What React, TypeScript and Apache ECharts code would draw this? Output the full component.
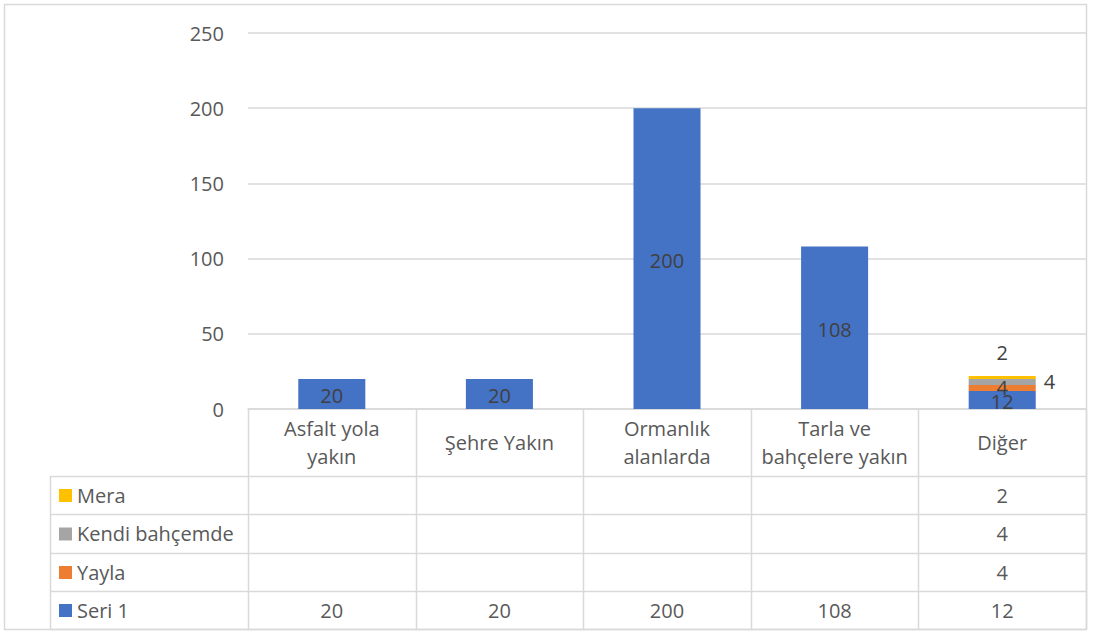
import React, { useEffect, useRef } from "react";
import * as echarts from "echarts";

const categories = ["Asfalt yola yakın", "Şehre Yakın", "Ormanlık alanlarda", "Tarla ve bahçelere yakın", "Diğer"];
const categoryLabels = ["Asfalt yola\nyakın", "Şehre Yakın", "Ormanlık\nalanlarda", "Tarla ve\nbahçelere yakın", "Diğer"];
const seri1 = [20, 20, 200, 108, 12];
const yayla = [null, null, null, null, 4];
const kendi = [null, null, null, null, 4];
const mera = [null, null, null, null, 2];
const seriesNames = ["Seri 1", "Yayla", "Kendi bahçemde", "Mera"];
const colors = ["#4472C4", "#ED7D31", "#A5A5A5", "#FFC000"];
const yTicks = { min: 0, max: 250, interval: 50 };

const FONT = "'Open Sans', sans-serif";
const TXT = "#595959";
const LINE = "#d9d9d9";

export default function App() {
  const ref = useRef<HTMLDivElement>(null);
  useEffect(() => {
    const chart = echarts.init(ref.current!, null, { renderer: "svg" });
    const W = 1104;
    const gridLeft = 248, gridRight = 1086, gridTop = 33, gridBottom = 409;
    const colW = (gridRight - gridLeft) / categories.length;
    const rowYs = [476, 514, 553, 591, 629];
    const tableLeft = 50;
    const allSeries = [seri1, yayla, kendi, mera];
    // table order: top to bottom Mera, Kendi, Yayla, Seri 1
    const tableOrder = [3, 2, 1, 0];

    const graphics: any[] = [];
    // outer border
    graphics.push({ type: "rect", shape: { x: 4.5, y: 4.5, width: 1082, height: 625 }, style: { fill: "none", stroke: LINE, lineWidth: 1.5 }, silent: true });
    // vertical lines
    for (let i = 0; i <= categories.length; i++) {
      const x = Math.round(gridLeft + i * colW) + 0.5;
      graphics.push({ type: "line", shape: { x1: x, y1: gridBottom, x2: x, y2: rowYs[4] }, style: { stroke: LINE, lineWidth: 1.5 }, silent: true });
    }
    graphics.push({ type: "line", shape: { x1: tableLeft + 0.5, y1: rowYs[0], x2: tableLeft + 0.5, y2: rowYs[4] }, style: { stroke: LINE, lineWidth: 1.5 }, silent: true });
    rowYs.forEach((y) => {
      graphics.push({ type: "line", shape: { x1: tableLeft, y1: y + 0.5, x2: gridRight, y2: y + 0.5 }, style: { stroke: LINE, lineWidth: 1.5 }, silent: true });
    });
    tableOrder.forEach((si, r) => {
      const cy = (rowYs[r] + rowYs[r + 1]) / 2;
      graphics.push({ type: "rect", shape: { x: 59, y: cy - 6, width: 13, height: 13 }, style: { fill: colors[si] }, silent: true });
      graphics.push({ type: "text", x: 77, y: cy, style: { text: seriesNames[si], font: `20px ${FONT}`, fill: TXT, verticalAlign: "middle", align: "left" }, silent: true });
      allSeries[si].forEach((v, c) => {
        if (v == null) return;
        graphics.push({ type: "text", x: gridLeft + (c + 0.5) * colW, y: cy, style: { text: String(v), font: `20px ${FONT}`, fill: TXT, verticalAlign: "middle", align: "center" }, silent: true });
      });
    });

    const labelBase = { color: "#404040", fontSize: 20, fontFamily: FONT };
    chart.setOption({
      animation: false,
      textStyle: { fontFamily: FONT },
      grid: { left: gridLeft, right: W - gridRight, top: gridTop, bottom: 641 - gridBottom },
      xAxis: {
        type: "category",
        data: categories,
        axisLine: { lineStyle: { color: LINE, width: 1.5 } },
        axisTick: { show: false },
        axisLabel: {
          interval: 0,
          margin: 33,
          verticalAlign: "middle",
          fontSize: 20,
          lineHeight: 28,
          color: TXT,
          fontFamily: FONT,
          formatter: (_v: string, i: number) => categoryLabels[i],
        },
      },
      yAxis: {
        type: "value",
        min: yTicks.min,
        max: yTicks.max,
        interval: yTicks.interval,
        axisLine: { show: false },
        axisTick: { show: false },
        splitLine: { lineStyle: { color: LINE, width: 1.5 } },
        axisLabel: { fontSize: 20, color: TXT, fontFamily: FONT, margin: 24 },
      },
      series: [
        { name: seriesNames[0], type: "bar", stack: "t", barWidth: "40%", data: seri1, itemStyle: { color: colors[0] }, label: { show: true, position: "inside", ...labelBase, offset: [0, 2] } },
        { name: seriesNames[1], type: "bar", stack: "t", data: yayla, itemStyle: { color: colors[1] }, label: { show: true, position: "inside", ...labelBase } },
        { name: seriesNames[2], type: "bar", stack: "t", data: kendi, itemStyle: { color: colors[2] }, label: { show: true, position: "right", distance: 8, ...labelBase } },
        { name: seriesNames[3], type: "bar", stack: "t", data: mera, itemStyle: { color: colors[3] }, label: { show: true, position: "top", distance: 13, ...labelBase } },
      ],
      graphic: graphics,
    });
    return () => chart.dispose();
  }, []);
  return <div ref={ref} style={{ position: "fixed", left: 0, top: 0, width: 1104, height: 641, background: "#fff" }} />;
}
